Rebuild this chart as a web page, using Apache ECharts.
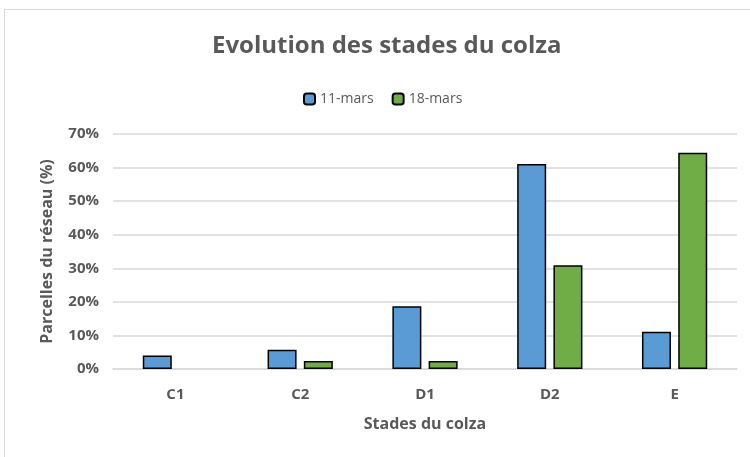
<!DOCTYPE html>
<html><head><meta charset="utf-8">
<script src="https://cdn.jsdelivr.net/npm/echarts@6/dist/echarts.min.js"></script>
<style>html,body{margin:0;padding:0;background:#fff}#c{width:750px;height:457px}</style>
</head><body><div id="c"></div>
<script>
var categories = ['C1','C2','D1','D2','E'];
var seriesNames = ['11-mars','18-mars'];
var mars11 = [0.04, 0.057, 0.187, 0.611, 0.111];
var mars18 = [0, 0.024, 0.024, 0.309, 0.644];
var yTicks = [0, 0.1, 0.2, 0.3, 0.4, 0.5, 0.6, 0.7];

function noZero(arr){ return arr.map(function(v){ return v === 0 ? '-' : v; }); }

var font = '"Open Sans", "Liberation Sans", sans-serif';
var chart = echarts.init(document.getElementById('c'));
chart.setOption({
  animation: false,
  graphic: [
    {type:'line', shape:{x1:4.5,y1:9,x2:4.5,y2:457}, style:{stroke:'#d9d9d9',lineWidth:1}},
    {type:'line', shape:{x1:4,y1:9.5,x2:750,y2:9.5}, style:{stroke:'#d9d9d9',lineWidth:1}}
  ],
  title: {
    text: 'Evolution des stades du colza',
    left: 207, top: 29,
    textStyle: {fontFamily: font, fontSize: 24, fontWeight: 'bold', color: '#595959'}
  },
  legend: {
    data: seriesNames, top: 87, left: 298,
    itemWidth: 11, itemHeight: 11, itemGap: 18,
    textStyle: {fontFamily: font, fontSize: 14, color: '#595959'}
  },
  grid: {left: 113, right: 13, top: 134, bottom: 88},
  xAxis: {
    type: 'category', data: categories,
    name: 'Stades du colza', nameLocation: 'middle', nameGap: 47,
    nameTextStyle: {fontFamily: font, fontSize: 16, fontWeight: 'bold', color: '#595959'},
    axisLine: {lineStyle: {color: '#d9d9d9', width: 1.5}},
    axisTick: {show: false},
    axisLabel: {fontFamily: font, fontSize: 15, fontWeight: 'bold', color: '#595959', margin: 18}
  },
  yAxis: {
    type: 'value', min: 0, max: 0.7, interval: 0.1,
    name: 'Parcelles du réseau (%)', nameLocation: 'middle', nameGap: 58,
    nameTextStyle: {fontFamily: font, fontSize: 16, fontWeight: 'bold', color: '#595959'},
    axisLine: {show: false}, axisTick: {show: false},
    splitLine: {lineStyle: {color: '#d9d9d9', width: 1.5}},
    axisLabel: {fontFamily: font, fontSize: 15, fontWeight: 'bold', color: '#595959', margin: 14,
      formatter: function(v){ return Math.round(v*100) + '%'; }}
  },
  series: [
    {name: seriesNames[0], type: 'bar', data: noZero(mars11), barWidth: 29, barGap: '25%',
      itemStyle: {color: '#5b9bd5', borderColor: '#000', borderWidth: 1.5}},
    {name: seriesNames[1], type: 'bar', data: noZero(mars18), barWidth: 29,
      itemStyle: {color: '#70ad47', borderColor: '#000', borderWidth: 1.5}}
  ]
});
</script></body></html>
